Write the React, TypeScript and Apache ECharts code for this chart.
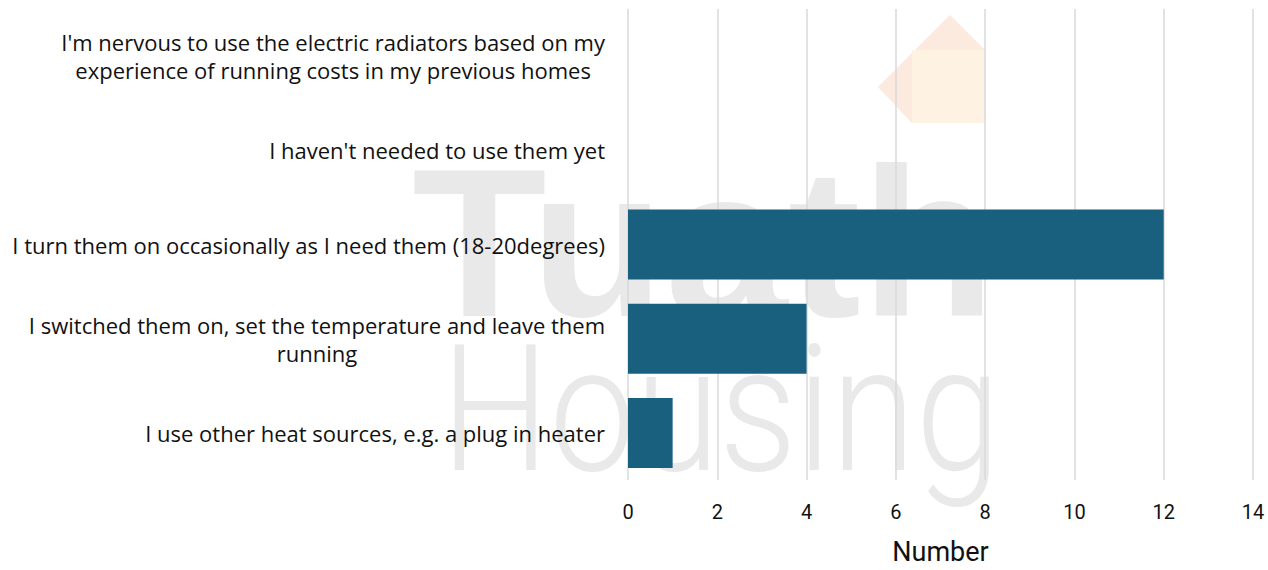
import React, { useEffect, useRef } from "react";
import * as echarts from "echarts";

const categories: string[] = [
  "I'm nervous to use the electric radiators based on my\nexperience of running costs in my previous homes",
  "I haven't needed to use them yet",
  "I turn them on occasionally as I need them (18-20degrees)",
  "I switched them on, set the temperature and leave them\nrunning",
  "I use other heat sources, e.g. a plug in heater",
];
const values: number[] = [0, 0, 12, 4, 1];
const xTicks = { min: 0, max: 14, interval: 2 };
const axisTitle = "Number";

export default function App() {
  const ref = useRef<HTMLDivElement>(null);
  useEffect(() => {
    if (!ref.current) return;
    const chart = echarts.init(ref.current, undefined, { renderer: "svg" });
    const wmColor = "#e9e9e9";
    chart.setOption({
      animation: false,
      backgroundColor: "#ffffff",
      graphic: [
        {
          type: "polygon",
          z: -10,
          silent: true,
          shape: { points: [[878, 87], [950, 15], [985, 50], [985, 123], [912, 123]] },
          style: { fill: "#fdeadf" },
        },
        {
          type: "rect",
          z: -9,
          silent: true,
          shape: { x: 912, y: 50, width: 73, height: 73 },
          style: { fill: "#fef3e3" },
        },
        {
          type: "text",
          z: -10,
          silent: true,
          x: 412,
          y: 348,
          scaleX: 1.04,
          style: {
            text: "Tuath",
            font: "bold 212px 'Liberation Sans', Arial, sans-serif",
            fill: wmColor,
            textVerticalAlign: "bottom",
            verticalAlign: "alphabetic",
          },
        },
        {
          type: "text",
          z: -10,
          silent: true,
          x: 441,
          y: 322,
          scaleX: 0.87,
          style: {
            text: "Housing",
            font: "300 176px Roboto, 'Liberation Sans', sans-serif",
            fill: wmColor,
            verticalAlign: "alphabetic",
          },
        },
      ],
      grid: { left: 628, right: 15, top: 9, bottom: 89, containLabel: false },
      xAxis: {
        type: "value",
        min: xTicks.min,
        max: xTicks.max,
        interval: xTicks.interval,
        name: axisTitle,
        nameLocation: "middle",
        nameGap: 58,
        nameTextStyle: { fontSize: 27, color: "#111", fontFamily: "Roboto, sans-serif" },
        axisLine: { show: false },
        axisTick: { show: false },
        axisLabel: { fontSize: 20, color: "#111", margin: 22, fontFamily: "Roboto, sans-serif" },
        splitLine: { show: true, lineStyle: { color: "#d9d9d9", width: 1.5 } },
      },
      yAxis: {
        type: "category",
        inverse: true,
        data: categories,
        axisLine: { show: false },
        axisTick: { show: false },
        axisLabel: {
          margin: 23,
          align: "right",
          formatter: (v: string) => "{c|" + v + "}",
          rich: {
            c: {
              fontSize: 22,
              lineHeight: 28,
              color: "#111",
              align: "center",
              fontFamily: "'Open Sans', sans-serif",
            },
          },
        },
      },
      series: [
        {
          type: "bar",
          data: values,
          barWidth: 70,
          itemStyle: { color: "#19607f" },
        },
      ],
    });
    return () => chart.dispose();
  }, []);
  return (
    <div
      ref={ref}
      style={{ position: "fixed", left: 0, top: 0, width: 1268, height: 570 }}
    />
  );
}
